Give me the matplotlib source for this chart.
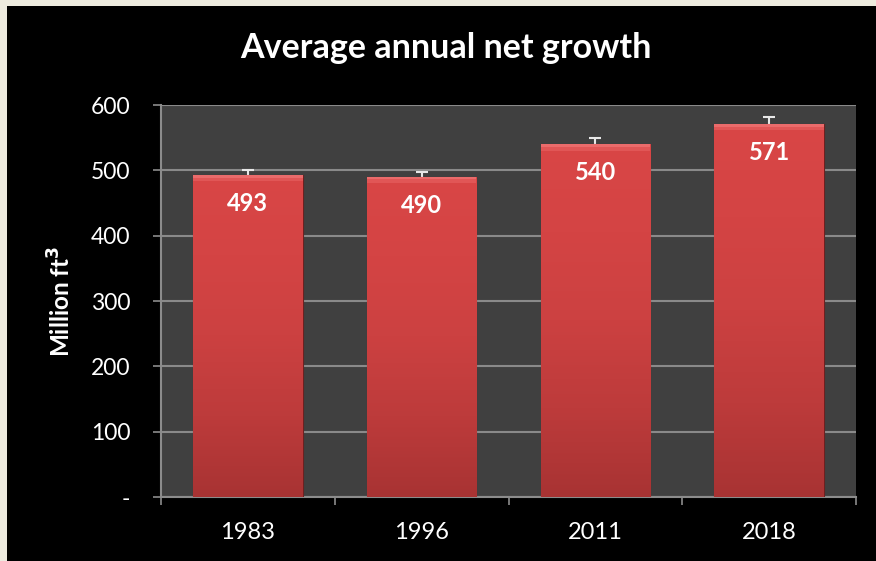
# Average annual net growth by survey year, bar chart with error caps
import numpy as np
import matplotlib.pyplot as plt
from matplotlib.patches import Rectangle
from matplotlib.colors import LinearSegmentedColormap

years = ["1983", "1996", "2011", "2018"]
growth = [493, 490, 540, 571]
error = [7, 8, 10, 10]
y_ticks = [0, 100, 200, 300, 400, 500, 600]
y_tick_labels = ["-", "100", "200", "300", "400", "500", "600"]

plt.rcParams["font.family"] = ["Lato", "DejaVu Sans"]

fig = plt.figure(figsize=(8.76, 5.61), dpi=100, facecolor="#eeebdf")
# black slide panel behind the chart
fig.patches.append(Rectangle((7 / 876, 0), 1, 1 - 6 / 561, transform=fig.transFigure,
                             facecolor="black", edgecolor="none", zorder=-10))

ax = fig.add_axes([161 / 876, 64 / 561, 695 / 876, 392 / 561])
ax.set_facecolor("#404040")

x = np.arange(len(years))
width = 0.63

# error caps sit behind the bars so only the upper half shows
ax.errorbar(x, growth, yerr=error, fmt="none", ecolor="#e8e8e8", elinewidth=1.5,
            capsize=4.5, capthick=1.5, zorder=2)

bars = ax.bar(x, growth, width=width, color="#c94040", edgecolor="#6e2020",
              linewidth=0.8, zorder=3)

# vertical shading inside each bar, darker towards the base
cmap = LinearSegmentedColormap.from_list(
    "barshade", ["#a83333", "#bd3b3b", "#cc4141", "#d44444", "#d94646"])
grad = np.linspace(0, 1, 256).reshape(-1, 1)
for bar in bars:
    bx, bw, bh = bar.get_x(), bar.get_width(), bar.get_height()
    im = ax.imshow(grad, cmap=cmap, aspect="auto", origin="lower",
                   extent=(bx, bx + bw, 0, bh), zorder=3.5,
                   vmin=0, vmax=1.0)
    im.set_clip_path(bar)
    # softer bevel band along the top edge
    ax.add_patch(Rectangle((bx, bh - 10), bw, 10, facecolor="#f07272",
                           edgecolor="none", alpha=0.4, zorder=3.6))
    ax.add_patch(Rectangle((bx, bh - 4), bw, 4, facecolor="#f48080",
                           edgecolor="none", alpha=0.5, zorder=3.7))

for xi, v in zip(x, growth):
    ax.text(xi, v - 44, str(v), ha="center", va="center", color="white",
            fontsize=17, fontweight="bold", zorder=5)

ax.set_xlim(-0.5, len(years) - 0.5)
ax.set_ylim(0, 600)
ax.set_yticks(y_ticks)
ax.set_yticklabels(y_tick_labels)
ax.set_xticks(np.arange(len(years) + 1) - 0.5, minor=False)
ax.set_xticklabels([])
ax.set_xticks(x, minor=True)
ax.set_xticklabels(years, minor=True)
ax.tick_params(axis="x", which="major", length=6, width=1.2, color="#8c8c8c",
               direction="out")
ax.tick_params(axis="x", which="minor", length=0, pad=18, labelsize=17,
               labelcolor="white")
ax.tick_params(axis="y", length=6, width=1.2, color="#8c8c8c", pad=16,
               labelsize=16.5, labelcolor="white")

ax.grid(axis="y", color="#8a8a8a", linewidth=1.5, zorder=1)
ax.set_axisbelow(True)
for side in ["top", "right"]:
    ax.spines[side].set_visible(False)
for side in ["left", "bottom"]:
    ax.spines[side].set_color("#8c8c8c")
    ax.spines[side].set_linewidth(1.5)

ax.set_ylabel("Million ft$^\\mathbf{3}$", color="white", fontsize=17.5,
              fontweight="bold", labelpad=12)
fig.text(446 / 876, 1 - 48 / 561, "Average annual net growth", ha="center",
         va="center", color="white", fontsize=24.5, fontweight="bold")

fig.savefig("out.png", dpi=100, facecolor=fig.get_facecolor())
